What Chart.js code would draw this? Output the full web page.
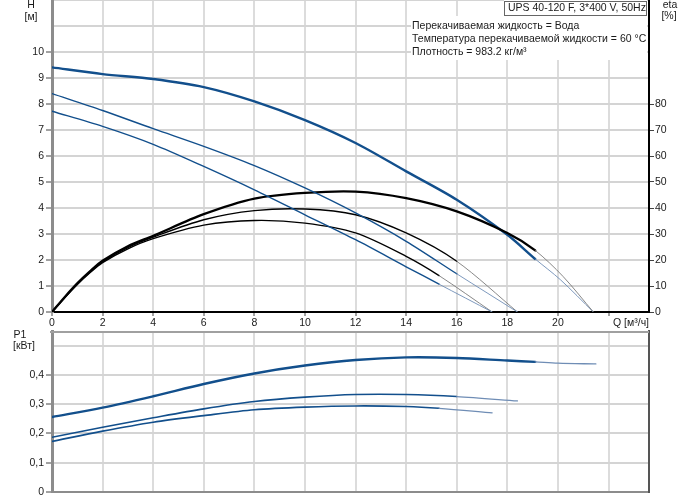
<!DOCTYPE html>
<html><head><meta charset="utf-8">
<script src="https://cdn.jsdelivr.net/npm/chart.js@4"></script>
<style>
html,body{margin:0;padding:0;background:#fff;}
#wrap{position:relative;width:691px;height:500px;overflow:hidden;}
#c1{position:absolute;left:0;top:0;width:691px;height:330px;}
#c2{position:absolute;left:0;top:330px;width:691px;height:170px;}
</style></head><body>
<div id="wrap">
<canvas id="c1" width="691" height="330"></canvas>
<canvas id="c2" width="691" height="170"></canvas>
</div>
<script>
const FONT = '"Liberation Sans", Arial, sans-serif';
const FSIZE = 10.5;
const BLUE = '#124f8c';
const BLUE_THIN = '#6f8db5';
const BLACK_THIN = '#7a7a7a';
const TXT = '#1a1a1a';

// tick values
const qTicks = [0,2,4,6,8,10,12,14,16,18,20,22];
const hTicks = [0,1,2,3,4,5,6,7,8,9,10,11,12];
const etaTicks = [0,10,20,30,40,50,60,70,80,90,100,110,120];
const pTicks = [0,0.1,0.2,0.3,0.4,0.5];

// Q-H curves (speed 3, 2, 1)
const qH3 = [0,2,4,6,8,10,12,14,16,18,19.1,20.1,21.4];
const h3  = [9.41,9.15,8.96,8.65,8.10,7.38,6.50,5.41,4.32,2.97,2.04,1.24,0];
const qH2 = [0,2,4,6,8,10,12,14,16,18.4];
const h2  = [8.40,7.75,7.05,6.37,5.63,4.77,3.81,2.72,1.47,0];
const qH1 = [0,2,4,6,8,10,12,14,15.3,17.4];
const h1  = [7.72,7.14,6.45,5.60,4.70,3.74,2.78,1.74,1.07,0];

// efficiency curves
const qE3 = [0,0.5,1,1.5,2,3,4,6,8,10,12,14,16,18,19.1,20.2,21.4];
const e3  = [0,5.7,11.0,15.6,19.7,25.3,29.3,37.6,43.6,45.8,46.3,43.8,38.7,30.4,23.7,13.7,0];
const qE2 = [0,0.5,1,1.5,2,3,4,6,8,10,12,14,16,18.4];
const e2  = [0,5.6,10.8,15.4,19.4,24.8,28.8,35.5,39.0,39.6,37.4,30.4,19.5,0];
const qE1 = [0,0.5,1,1.5,2,3,4,6,8,10,12,14,15.3,17.4];
const e1  = [0,5.5,10.6,15.1,19.0,24.3,28.2,33.4,35.2,34.2,30.4,21.4,14.0,0];

// power curves
const qP3 = [0,2,4,6,8,10,12,14,16,18,19.1,20,21.5];
const p3  = [0.256,0.288,0.327,0.369,0.405,0.432,0.451,0.460,0.458,0.449,0.4445,0.440,0.4375];
const qP2 = [0,2,4,6,8,10,12,14,16,18.4];
const p2  = [0.187,0.2215,0.2535,0.284,0.309,0.324,0.333,0.333,0.326,0.311];
const qP1 = [0,2,4,6,8,10,12,14,15.3,17.4];
const p1  = [0.173,0.208,0.2385,0.261,0.281,0.290,0.294,0.292,0.286,0.2705];

// end of the solid (operating) part of each speed curve
const opEnd3 = 19.1, opEnd2 = 16.0, opEnd1 = 15.3;

const titleText = 'UPS 40-120 F, 3*400 V, 50Hz';
const infoLines = ['Перекачиваемая жидкость = Вода','Температура перекачиваемой жидкости = 60 °C','Плотность = 983.2 кг/м³'];

const TR = 'rgba(0,0,0,0)';
function pts(xs, ys){ return xs.map((x,i)=>({x:x, y:ys[i]})); }
function curve(xs, ys, color, width, thinColor, thinWidth, end, axis){
  return {
    data: pts(xs, ys), yAxisID: axis, borderColor: color, borderWidth: width,
    pointRadius: 0, pointHoverRadius: 0, fill: false, tension: 0.3,
    borderCapStyle: 'round', borderJoinStyle: 'round',
    segment: {
      borderWidth: c => c.p0.parsed.x >= end - 1e-6 ? thinWidth : width,
      borderColor: c => c.p0.parsed.x >= end - 1e-6 ? thinColor : color
    }
  };
}
const tickFont = {family: FONT, size: FSIZE};

const topTexts = {
  id: 'topTexts',
  afterDraw(chart){
    const ctx = chart.ctx; ctx.save();
    ctx.font = FSIZE + 'px ' + FONT; ctx.fillStyle = TXT;
    ctx.textAlign = 'center'; ctx.textBaseline = 'middle';
    ctx.fillText('H', 31, 5); ctx.fillText('[м]', 31, 17);
    ctx.fillText('eta', 670, 5); ctx.fillText('[%]', 669, 16);
    ctx.textAlign = 'left';
    ctx.fillText('Q [м³/ч]', 613, 323);
    ctx.fillStyle = '#fff';
    ctx.fillRect(411, 16, 236, 44);
    ctx.fillRect(504, 0, 143, 16);
    ctx.strokeStyle = '#666'; ctx.lineWidth = 1;
    ctx.strokeRect(504.5, 1.5, 142, 14);
    ctx.fillStyle = TXT;
    ctx.fillText(titleText, 508, 8.5);
    ctx.fillText(infoLines[0], 412, 26);
    ctx.fillText(infoLines[1], 412, 39);
    ctx.fillText(infoLines[2], 412, 52);
    ctx.restore();
  }
};

new Chart(document.getElementById('c1'), {
  type: 'line',
  data: { datasets: [
    curve(qH1, h1, BLUE, 1.4, BLUE_THIN, 0.9, opEnd1, 'y'),
    curve(qH2, h2, BLUE, 1.4, BLUE_THIN, 0.9, opEnd2, 'y'),
    curve(qE1, e1, '#000', 1.4, BLACK_THIN, 0.9, opEnd1, 'eta'),
    curve(qE2, e2, '#000', 1.4, BLACK_THIN, 0.9, opEnd2, 'eta'),
    curve(qE3, e3, '#000', 2.4, BLACK_THIN, 0.9, opEnd3, 'eta'),
    curve(qH3, h3, BLUE, 2.4, BLUE_THIN, 0.9, opEnd3, 'y')
  ]},
  options: {
    responsive: false, animation: false, devicePixelRatio: 1,
    layout: {padding: 0},
    plugins: {legend: {display: false}, tooltip: {enabled: false}},
    scales: {
      x: {
        type: 'linear', min: 0, max: 23.6,
        afterBuildTicks: s => { s.ticks = qTicks.map(v => ({value: v})); },
        ticks: {callback: v => v === 22 ? '' : String(v), font: tickFont, color: TXT, padding: 1, maxRotation: 0, autoSkip: false},
        grid: {color: c => (c.tick && c.tick.value === 0) ? TR : '#dcdcdc', lineWidth: 2, tickLength: 4, tickColor: '#444', tickWidth: 1},
        border: {color: '#000', width: 2},
        afterFit: s => { s.height = 18; s.paddingLeft = 0; s.paddingRight = 0; }
      },
      y: {
        position: 'left', min: 0, max: 12,
        afterBuildTicks: s => { s.ticks = hTicks.map(v => ({value: v})); },
        ticks: {callback: v => v > 10 ? '' : String(v), font: tickFont, color: TXT, padding: 2, autoSkip: false},
        grid: {color: c => (c.tick && c.tick.value === 0) ? TR : '#d4d4d4', lineWidth: 2, tickLength: 6,
               tickColor: c => (c.tick && c.tick.value > 10) ? TR : '#444', tickWidth: 1},
        border: {color: '#8c8c8c', width: 3},
        afterFit: s => { s.width = 52; s.paddingTop = 0; s.paddingBottom = 0; }
      },
      eta: {
        position: 'right', min: 0, max: 120,
        afterBuildTicks: s => { s.ticks = etaTicks.map(v => ({value: v})); },
        ticks: {callback: v => v > 80 ? '' : String(v), font: tickFont, color: TXT, padding: 1, autoSkip: false},
        grid: {drawOnChartArea: false, tickLength: 5, tickColor: c => (c.tick && c.tick.value > 80) ? TR : '#444', tickWidth: 1},
        border: {color: '#000', width: 2},
        afterFit: s => { s.width = 42; s.paddingTop = 0; s.paddingBottom = 0; }
      }
    }
  },
  plugins: [topTexts]
});

const bottomTexts = {
  id: 'bottomTexts',
  afterDraw(chart){
    const ctx = chart.ctx, a = chart.chartArea; ctx.save();
    ctx.strokeStyle = '#a0a0a0'; ctx.lineWidth = 2;
    ctx.beginPath(); ctx.moveTo(a.left - 2, a.top + 1); ctx.lineTo(a.right, a.top + 1); ctx.stroke();
    ctx.font = FSIZE + 'px ' + FONT; ctx.fillStyle = TXT;
    ctx.textAlign = 'center'; ctx.textBaseline = 'middle';
    ctx.fillText('P1', 20, 5); ctx.fillText('[кВт]', 24, 16);
    ctx.restore();
  }
};

new Chart(document.getElementById('c2'), {
  type: 'line',
  data: { datasets: [
    curve(qP1, p1, BLUE, 1.6, BLUE_THIN, 1.2, opEnd1, 'y'),
    curve(qP2, p2, BLUE, 1.6, BLUE_THIN, 1.2, opEnd2, 'y'),
    curve(qP3, p3, BLUE, 2.4, BLUE_THIN, 1.3, opEnd3, 'y')
  ]},
  options: {
    responsive: false, animation: false, devicePixelRatio: 1,
    layout: {padding: {top: 1, left: 0, right: 0, bottom: 0}},
    plugins: {legend: {display: false}, tooltip: {enabled: false}},
    scales: {
      x: {
        type: 'linear', min: 0, max: 23.6,
        afterBuildTicks: s => { s.ticks = qTicks.map(v => ({value: v})); },
        ticks: {display: false},
        grid: {color: c => (c.tick && c.tick.value === 0) ? TR : '#dcdcdc', lineWidth: 2, drawTicks: false},
        border: {color: '#8c8c8c', width: 2},
        afterFit: s => { s.height = 8; s.paddingLeft = 0; s.paddingRight = 0; }
      },
      y: {
        position: 'left', min: 0, max: 0.55,
        afterBuildTicks: s => { s.ticks = pTicks.map(v => ({value: v})); },
        ticks: {callback: v => v > 0.45 ? '' : (v === 0 ? '0' : v.toFixed(1).replace('.', ',')), font: tickFont, color: TXT, padding: 2, autoSkip: false},
        grid: {color: c => (c.tick && c.tick.value === 0) ? TR : '#d4d4d4', lineWidth: 2, tickLength: 6,
               tickColor: c => (c.tick && c.tick.value > 0.45) ? TR : '#444', tickWidth: 1},
        border: {color: '#8c8c8c', width: 3},
        afterFit: s => { s.width = 52; s.paddingTop = 0; s.paddingBottom = 0; }
      },
      y2: {
        position: 'right', min: 0, max: 0.55,
        ticks: {display: false},
        grid: {drawOnChartArea: false, drawTicks: false},
        border: {color: '#555', width: 2},
        afterFit: s => { s.width = 42; s.paddingTop = 0; s.paddingBottom = 0; }
      }
    }
  },
  plugins: [bottomTexts]
});
</script>
</body></html>
